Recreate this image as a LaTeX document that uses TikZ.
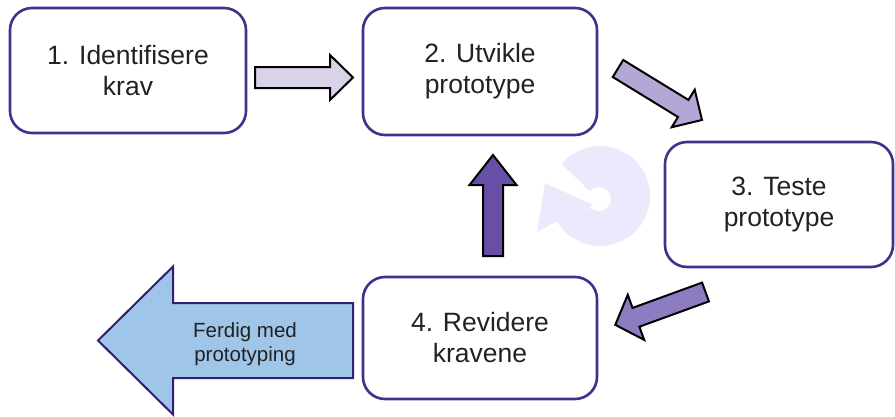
\documentclass[tikz,border=0pt]{standalone}
\usepackage{fontspec}
\setmainfont{Liberation Sans}
\usetikzlibrary{calc}

\definecolor{boxline}{HTML}{43308A}
\definecolor{txt}{HTML}{222222}
\definecolor{ringfill}{HTML}{EEE8FD}
\definecolor{arrA}{HTML}{D9D2E9}
\definecolor{arrB}{HTML}{B4A7D6}
\definecolor{arrC}{HTML}{8E7CC3}
\definecolor{arrD}{HTML}{674EA7}
\definecolor{exitfill}{HTML}{9FC5E8}
\definecolor{exitline}{HTML}{351C75}

% block arrow: #1 style, #2 tail centre, #3 angle, #4 length,
% #5 head length, #6 shaft half width, #7 head half width
\newcommand{\blockarrow}[7]{%
  \begin{scope}[shift={#2}, rotate=#3]
    \draw[#1] (0,-#6) -- ({#4-#5},-#6) -- ({#4-#5},-#7) -- (#4,0)
      -- ({#4-#5},#7) -- ({#4-#5},#6) -- (0,#6) -- cycle;
  \end{scope}}

\tikzset{
  stepbox/.style={draw=boxline, line width=2.6pt, fill=white,
    rounded corners=22pt, align=center, text=txt,
    font=\fontsize{26.5}{31}\selectfont},
  flow/.style={draw=black, line width=2pt, line join=miter},
}

\begin{document}
\begin{tikzpicture}[x=1pt, y=-1pt]
\useasboundingbox (0,0) rectangle (895,416);

% circular "iterate" arrow in the background
\coordinate (rc) at (600,196);
\coordinate (hc) at (599,199);
\fill[ringfill] ($(rc)+(-140:50)$) arc[start angle=-140, end angle=150, radius=50]
  -- (537,232) -- (545,183) -- (593,205) -- (586,210)
  -- ($(hc)+(130:12)$) arc[start angle=130, end angle=-140, radius=12] -- cycle;

% process steps
\node[stepbox, minimum width=236pt, minimum height=125pt] (s1) at (128,70.5) {1. Identifisere\\krav};
\node[stepbox, minimum width=234pt, minimum height=127pt] (s2) at (480,71.5) {2. Utvikle\\prototype};
\node[stepbox, minimum width=228pt, minimum height=125pt] (s3) at (779,204.5) {3. Teste\\prototype};
\node[stepbox, minimum width=234pt, minimum height=122pt] (s4) at (480,338) {4. Revidere\\kravene};

% arrows between the steps
\blockarrow{flow, fill=arrA}{(255,77.5)}{0}{98}{23}{10.5}{22.5}
\blockarrow{flow, fill=arrB}{(618,68.5)}{-31.5}{98.5}{22}{10}{22}
\blockarrow{flow, fill=arrC}{(705.5,292)}{-160}{96}{22}{10}{24}
\blockarrow{flow, fill=arrD}{(493,256)}{90}{101}{30}{10}{23.5}

% exit arrow
\blockarrow{draw=exitline, line width=2pt, fill=exitfill}{(353,340.5)}{180}{255}{75}{37.5}{74}
\node[text=txt, align=center, font=\fontsize{20.5}{24}\selectfont] (done) at (245,344) {Ferdig med\\prototyping};
\end{tikzpicture}
\end{document}
